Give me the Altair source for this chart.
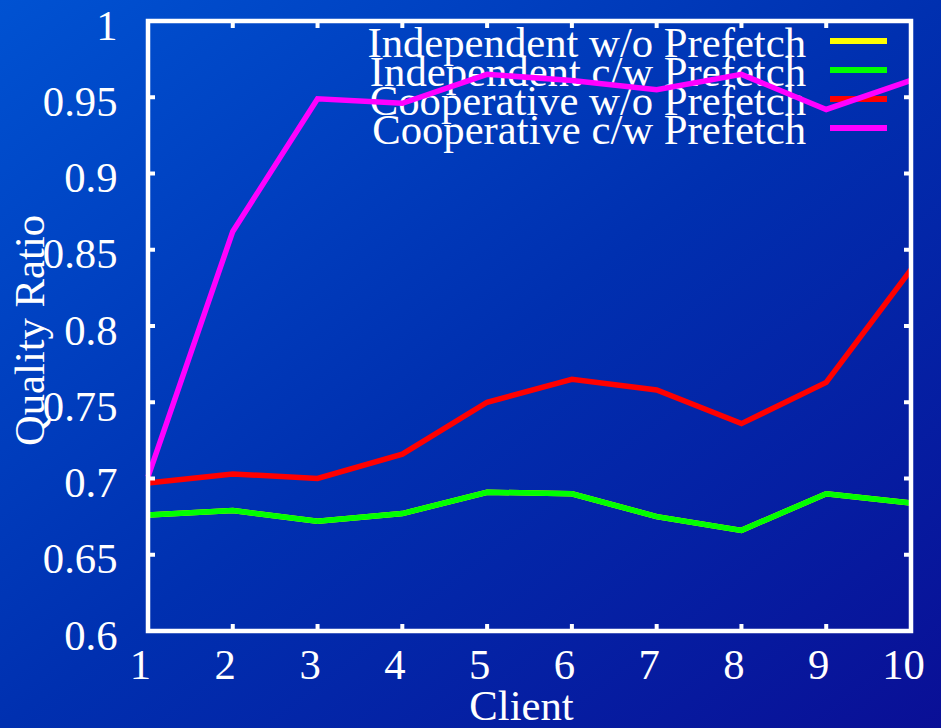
import altair as alt
import pandas as pd

# ---- data ----
clients = [1, 2, 3, 4, 5, 6, 7, 8, 9, 10]
indep_wo_prefetch = [0.676, 0.679, 0.672, 0.677, 0.691, 0.690, 0.675, 0.666, 0.690, 0.684]
indep_cw_prefetch = [0.676, 0.679, 0.672, 0.677, 0.691, 0.690, 0.675, 0.666, 0.690, 0.684]
coop_wo_prefetch = [0.697, 0.703, 0.700, 0.716, 0.750, 0.765, 0.758, 0.736, 0.763, 0.837]
coop_cw_prefetch = [0.701, 0.862, 0.949, 0.946, 0.965, 0.961, 0.955, 0.965, 0.942, 0.961]

series_names = [
    "Independent w/o Prefetch",
    "Independent c/w Prefetch",
    "Cooperative w/o Prefetch",
    "Cooperative c/w Prefetch",
]
series_values = [indep_wo_prefetch, indep_cw_prefetch, coop_wo_prefetch, coop_cw_prefetch]
series_colors = ["#ffff00", "#00ff00", "#ff0000", "#ff00ff"]

y_tick_values = [0.6, 0.65, 0.7, 0.75, 0.8, 0.85, 0.9, 0.95, 1.0]

# ---- layout / style ----
W, H = 763, 610
PAD = {"left": 148, "top": 21, "right": 30, "bottom": 97}
FONT = "Liberation Serif"
FS = 42.7
TICK_LEN = 7

x_scale = alt.Scale(domain=[1, 10], nice=False, zero=False)
y_scale = alt.Scale(domain=[0.6, 1.0], nice=False, zero=False)

one_row = pd.DataFrame({"k": [0]})

# full-canvas gradient backdrop
backdrop = alt.Chart(one_row).mark_rect(
    color=alt.Gradient(
        gradient="linear",
        stops=[
            alt.GradientStop(color="#0052d2", offset=0),
            alt.GradientStop(color="#0030b0", offset=0.5),
            alt.GradientStop(color="#0a0f96", offset=1),
        ],
        x1=0, y1=0, x2=1, y2=1,
    )
).encode(
    x=alt.value(-PAD["left"]),
    x2=alt.value(W + PAD["right"]),
    y=alt.value(-PAD["top"]),
    y2=alt.value(H + PAD["bottom"]),
)

# key: labels right-aligned, sample strokes to their right
key_df = pd.DataFrame({"series": series_names, "row": list(range(len(series_names)))})
key_y = alt.Y("row:Q", scale=alt.Scale(domain=[0, 3], range=[20, 107]), axis=None)
key_text = alt.Chart(key_df).mark_text(
    align="right", baseline="alphabetic", dy=16, font=FONT, fontSize=FS, color="white"
).encode(x=alt.value(658), y=key_y, text="series:N")
key_swatch = alt.Chart(key_df).mark_rule(strokeWidth=6, strokeCap="butt").encode(
    x=alt.value(682),
    x2=alt.value(739),
    y=key_y,
    color=alt.Color("series:N", scale=alt.Scale(domain=series_names, range=series_colors), legend=None),
)
key = alt.layer(key_text, key_swatch)

# shared axes (same definition on every layer that uses the x/y scales)
x_axis = alt.Axis(
    values=clients, format="d", title="Client", domain=False, ticks=False, grid=False,
    labelFlush=False, labelOverlap=False, labelPadding=47, labelBaseline="alphabetic",
    labelOffset=-8, labelFont=FONT, labelFontSize=FS, labelColor="white",
    titleFont=FONT, titleFontSize=FS, titleFontWeight="normal", titleColor="white",
    titleX=373, titleY=88, titleBaseline="alphabetic", titleAlign="center", zindex=2,
)
y_axis = alt.Axis(
    values=y_tick_values, format=".2~f", title="Quality Ratio", domain=False, ticks=False,
    grid=False, labelFlush=False, labelOverlap=False, labelPadding=31,
    labelBaseline="alphabetic", labelOffset=18, labelAlign="right",
    labelFont=FONT, labelFontSize=FS, labelColor="white",
    titleFont=FONT, titleFontSize=FS, titleFontWeight="normal", titleColor="white",
    titleAngle=270, titleX=-105, titleY=309, titleBaseline="alphabetic", titleAlign="center",
    zindex=2,
)

# series lines, drawn in order so later series sit on top
line_layers = []
for name, vals, col in zip(series_names, series_values, series_colors):
    df = pd.DataFrame({"client": clients, "value": vals})
    line_layers.append(
        alt.Chart(df).mark_line(
            color=col, strokeWidth=5.5, strokeCap="butt", strokeJoin="miter"
        ).encode(
            x=alt.X("client:Q", scale=x_scale, axis=x_axis, title="Client"),
            y=alt.Y("value:Q", scale=y_scale, axis=y_axis, title="Quality Ratio"),
        )
    )

# inward tick marks on all four sides
ytick_df = pd.DataFrame({"v": y_tick_values})
xtick_df = pd.DataFrame({"c": clients})
tick_style = dict(color="white", strokeWidth=4, strokeCap="butt")
ytick_enc = alt.Y("v:Q", scale=y_scale, axis=y_axis, title="Quality Ratio")
xtick_enc = alt.X("c:Q", scale=x_scale, axis=x_axis, title="Client")
ticks_left = alt.Chart(ytick_df).mark_rule(**tick_style).encode(
    y=ytick_enc, x=alt.value(0), x2=alt.value(TICK_LEN))
ticks_right = alt.Chart(ytick_df).mark_rule(**tick_style).encode(
    y=ytick_enc, x=alt.value(W - TICK_LEN), x2=alt.value(W))
ticks_bottom = alt.Chart(xtick_df).mark_rule(**tick_style).encode(
    x=xtick_enc, y=alt.value(H - TICK_LEN), y2=alt.value(H))
ticks_top = alt.Chart(xtick_df).mark_rule(**tick_style).encode(
    x=xtick_enc, y=alt.value(0), y2=alt.value(TICK_LEN))

# plot border
border = alt.Chart(one_row).mark_rect(
    filled=False, stroke="white", strokeWidth=4.5
).encode(x=alt.value(0), x2=alt.value(W), y=alt.value(0), y2=alt.value(H))

main = alt.layer(*line_layers, ticks_left, ticks_right, ticks_bottom, ticks_top, border)

chart = alt.layer(backdrop, key, main).resolve_scale(y="independent").properties(
    width=W,
    height=H,
    padding=PAD,
    autosize=alt.AutoSizeParams(type="none"),
    background="#0030b0",
).configure_view(stroke=None)

chart.save("out.html", embed_options={"renderer": "svg", "actions": False})
